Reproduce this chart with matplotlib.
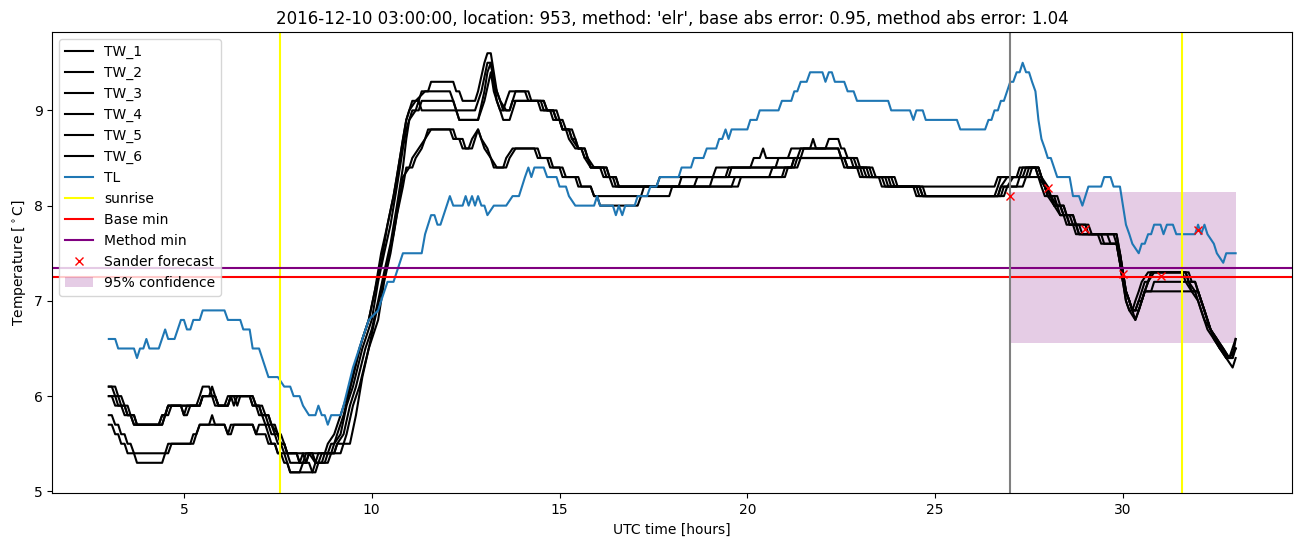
import matplotlib
matplotlib.use("Agg")
import matplotlib.pyplot as plt

# ---------------- data (hours, temperature) ----------------
tw1 = [(3.00, 6.1), (3.08, 6.1), (3.17, 6.0), (3.25, 6.0), (3.33, 5.9), (3.42, 5.9), (3.50, 5.8), (3.58, 5.8),
       (3.67, 5.7), (4.42, 5.7), (4.50, 5.8), (4.58, 5.8), (4.67, 5.9), (5.33, 5.9), (5.42, 6.0), (5.50, 6.1),
       (5.67, 6.1), (5.75, 6.0), (5.83, 6.0), (5.92, 5.9), (6.08, 5.9), (6.17, 6.0), (6.75, 6.0), (6.83, 5.9),
       (6.92, 5.9), (7.00, 5.8), (7.08, 5.8), (7.17, 5.7), (7.25, 5.7), (7.33, 5.6), (7.42, 5.6), (7.50, 5.5),
       (7.58, 5.5), (7.67, 5.4), (8.17, 5.4), (8.25, 5.3), (8.33, 5.4), (8.75, 5.4), (8.83, 5.5), (9.00, 5.6),
       (9.17, 5.8), (9.42, 6.1), (9.67, 6.5), (9.92, 6.8), (10.08, 7.1), (10.25, 7.5), (10.42, 7.8),
       (10.58, 8.1), (10.67, 8.3), (10.83, 8.7), (10.92, 8.9), (11.00, 9.0), (11.08, 9.1),
       (11.25, 9.1), (11.33, 9.2), (11.50, 9.2), (11.58, 9.3), (12.17, 9.3), (12.25, 9.2), (12.33, 9.2),
       (12.42, 9.1), (12.75, 9.1), (12.83, 9.2), (13.00, 9.5), (13.08, 9.6), (13.17, 9.6), (13.25, 9.4),
       (13.33, 9.2), (13.42, 9.1), (13.50, 9.0), (13.58, 9.1), (13.67, 9.2), (14.08, 9.2), (14.17, 9.1),
       (14.50, 9.1), (14.58, 9.0), (14.83, 9.0), (14.92, 8.9), (15.00, 8.9), (15.08, 8.8), (15.25, 8.8),
       (15.33, 8.7), (15.42, 8.7), (15.50, 8.6), (15.58, 8.6), (15.67, 8.5), (15.75, 8.5), (15.83, 8.4),
       (16.17, 8.4), (16.25, 8.3), (16.42, 8.3), (16.50, 8.2), (17.58, 8.2), (17.67, 8.3), (19.08, 8.3),
       (19.17, 8.4), (20.08, 8.4), (20.17, 8.5), (20.33, 8.5), (20.42, 8.6), (20.50, 8.5), (21.08, 8.5),
       (21.17, 8.6), (22.08, 8.6), (22.17, 8.7), (22.42, 8.7), (22.50, 8.6), (22.58, 8.6), (22.67, 8.5),
       (22.92, 8.5), (23.00, 8.4), (23.25, 8.4), (23.33, 8.3), (23.83, 8.3), (23.92, 8.2), (24.58, 8.2),
       (24.67, 8.1), (26.58, 8.1), (26.67, 8.2), (26.75, 8.3), (27.17, 8.3), (27.25, 8.4), (27.75, 8.4),
       (27.83, 8.3), (27.92, 8.2), (28.00, 8.1), (28.17, 8.1), (28.25, 8.0), (28.33, 8.0), (28.42, 7.9),
       (28.58, 7.9), (28.67, 7.8), (28.83, 7.8), (28.92, 7.7), (29.75, 7.7), (29.83, 7.6), (29.92, 7.4),
       (30.00, 7.2), (30.08, 7.0), (30.17, 6.9), (30.25, 6.9), (30.33, 7.0), (30.42, 7.1), (30.50, 7.2),
       (30.67, 7.3), (31.75, 7.3), (31.83, 7.2), (31.92, 7.2), (32.00, 7.1), (32.17, 6.9), (32.33, 6.7),
       (32.50, 6.6), (32.67, 6.5), (32.83, 6.4), (33.00, 6.6)]

tw2 = [(3.00, 6.1), (3.17, 6.1), (3.25, 6.0), (3.33, 6.0), (3.42, 5.9), (3.50, 5.9), (3.58, 5.8), (3.67, 5.8),
       (3.75, 5.7), (4.33, 5.7), (4.42, 5.8), (4.50, 5.8), (4.58, 5.9), (4.92, 5.9), (5.00, 5.8), (5.08, 5.9),
       (5.42, 5.9), (5.50, 6.0), (5.83, 6.0), (5.92, 5.9), (6.17, 5.9), (6.25, 6.0), (6.33, 5.9), (6.42, 6.0),
       (6.83, 6.0), (6.92, 5.9), (7.00, 5.9), (7.08, 5.8), (7.17, 5.8), (7.25, 5.7), (7.33, 5.7), (7.42, 5.6),
       (7.50, 5.6), (7.58, 5.5), (7.67, 5.5), (7.75, 5.4), (8.00, 5.4), (8.08, 5.3), (8.17, 5.4), (8.42, 5.4),
       (8.50, 5.3), (8.58, 5.4), (8.83, 5.4), (8.92, 5.5), (9.00, 5.5), (9.08, 5.6), (9.25, 5.8), (9.50, 6.2),
       (9.75, 6.6), (9.92, 6.8), (10.08, 7.1), (10.25, 7.4), (10.42, 7.8), (10.58, 8.1), (10.75, 8.5),
       (10.92, 8.9), (11.00, 9.0), (11.17, 9.1), (11.42, 9.2), (12.08, 9.2), (12.17, 9.1),
       (12.25, 9.0), (12.75, 9.0), (12.92, 9.2), (13.08, 9.5), (13.17, 9.5), (13.25, 9.3), (13.33, 9.2),
       (13.42, 9.1), (13.58, 9.0), (13.67, 9.0), (13.75, 9.1), (13.83, 9.2), (14.17, 9.2), (14.25, 9.1),
       (14.58, 9.1), (14.67, 9.0), (14.83, 9.0), (14.92, 8.9), (15.08, 8.9), (15.17, 8.8), (15.33, 8.8),
       (15.42, 8.7), (15.50, 8.6), (15.67, 8.6), (15.75, 8.5), (15.83, 8.4), (16.25, 8.4), (16.33, 8.3),
       (16.50, 8.3), (16.58, 8.2), (18.58, 8.2), (18.67, 8.3), (19.50, 8.3), (19.58, 8.4), (20.75, 8.4),
       (20.83, 8.5), (21.33, 8.5), (21.42, 8.6), (21.67, 8.6), (21.75, 8.7), (21.83, 8.6), (22.42, 8.6),
       (22.50, 8.5), (22.83, 8.5), (22.92, 8.4), (23.33, 8.4), (23.42, 8.3), (23.92, 8.3), (24.00, 8.2),
       (26.58, 8.2), (26.67, 8.3), (27.33, 8.3), (27.42, 8.4), (27.75, 8.4), (27.83, 8.3), (28.00, 8.2),
       (28.08, 8.1), (28.25, 8.1), (28.33, 8.0), (28.42, 8.0), (28.50, 7.9), (28.67, 7.9), (28.75, 7.8),
       (29.08, 7.8), (29.17, 7.7), (29.83, 7.7), (29.92, 7.5), (30.00, 7.3), (30.08, 7.1), (30.17, 7.0),
       (30.25, 6.9), (30.33, 6.8), (30.42, 6.9), (30.50, 7.0), (30.58, 7.1), (30.67, 7.2), (30.75, 7.3),
       (31.67, 7.3), (31.75, 7.2), (31.92, 7.2), (32.00, 7.1), (32.17, 6.9), (32.33, 6.7), (32.50, 6.6),
       (32.75, 6.4), (32.92, 6.3), (33.00, 6.4)]

tw3 = [(3.00, 6.0), (3.08, 6.0), (3.17, 5.9), (3.33, 5.9), (3.42, 5.8), (3.58, 5.8), (3.67, 5.7), (4.42, 5.7),
       (4.50, 5.8), (4.58, 5.9), (4.92, 5.9), (5.00, 5.8), (5.08, 5.8), (5.17, 5.9), (5.42, 5.9), (5.50, 6.0),
       (5.75, 6.0), (5.83, 5.9), (6.17, 5.9), (6.25, 6.0), (6.75, 6.0), (6.83, 5.9), (7.00, 5.9), (7.08, 5.8),
       (7.25, 5.8), (7.33, 5.7), (7.42, 5.7), (7.50, 5.6), (7.58, 5.5), (7.67, 5.5), (7.75, 5.4), (7.83, 5.3),
       (8.17, 5.3), (8.25, 5.4), (8.42, 5.4), (8.50, 5.3), (8.58, 5.3), (8.67, 5.4), (8.92, 5.4), (9.00, 5.5),
       (9.17, 5.6), (9.33, 5.9), (9.50, 6.1), (9.75, 6.5), (10.00, 6.8), (10.17, 7.2), (10.33, 7.5),
       (10.50, 7.8), (10.67, 8.2), (10.83, 8.6), (10.92, 8.8), (11.00, 8.9), (11.08, 9.0), (11.25, 9.0),
       (11.33, 9.1),
       (12.17, 9.1), (12.25, 9.0), (12.33, 8.9), (12.83, 8.9), (13.00, 9.2), (13.08, 9.4), (13.17, 9.5),
       (13.25, 9.3), (13.33, 9.1), (13.42, 9.0), (13.67, 9.0), (13.75, 9.1), (14.42, 9.1), (14.50, 9.0),
       (14.75, 9.0), (14.83, 8.9), (15.00, 8.9), (15.08, 8.8), (15.17, 8.8), (15.25, 8.7), (15.42, 8.6),
       (15.58, 8.6), (15.67, 8.5), (15.83, 8.4), (16.08, 8.4), (16.17, 8.3), (16.33, 8.3), (16.42, 8.2),
       (18.17, 8.2), (18.25, 8.3), (19.42, 8.3), (19.50, 8.4), (21.17, 8.4), (21.25, 8.5), (21.42, 8.5),
       (21.50, 8.6), (22.42, 8.6), (22.50, 8.5), (22.75, 8.5), (22.83, 8.4), (23.17, 8.4), (23.25, 8.3),
       (23.75, 8.3), (23.83, 8.2), (24.50, 8.2), (24.58, 8.1), (26.83, 8.1), (26.92, 8.2), (27.08, 8.3),
       (27.25, 8.3), (27.33, 8.4), (27.67, 8.4), (27.75, 8.3), (27.83, 8.2), (27.92, 8.1), (28.08, 8.1),
       (28.17, 8.0), (28.33, 8.0), (28.42, 7.9), (28.50, 7.9), (28.58, 7.8), (28.75, 7.8), (28.83, 7.7),
       (29.42, 7.7), (29.50, 7.6), (29.83, 7.6), (29.92, 7.4), (30.00, 7.2), (30.08, 7.0), (30.17, 6.9),
       (30.33, 6.8), (30.42, 6.9), (30.58, 7.1), (30.67, 7.2), (30.83, 7.3), (31.58, 7.3), (31.67, 7.2),
       (31.83, 7.1), (32.00, 7.0), (32.17, 6.8), (32.33, 6.7), (32.58, 6.5), (32.83, 6.4), (33.00, 6.5)]

tw4 = [(3.00, 6.0), (3.17, 6.0), (3.25, 5.9), (3.42, 5.9), (3.50, 5.8), (3.67, 5.8), (3.75, 5.7), (4.33, 5.7),
       (4.42, 5.8), (4.50, 5.8), (4.58, 5.9), (5.42, 5.9), (5.50, 6.0), (5.67, 6.0), (5.75, 6.1), (5.83, 6.0),
       (5.92, 5.9), (6.17, 5.9), (6.25, 6.0), (6.33, 6.0), (6.42, 5.9), (6.50, 6.0), (6.83, 6.0), (6.92, 5.9),
       (7.08, 5.9), (7.17, 5.8), (7.25, 5.8), (7.33, 5.7), (7.50, 5.6), (7.58, 5.6), (7.67, 5.5), (7.75, 5.4),
       (8.00, 5.4), (8.08, 5.3), (8.25, 5.3), (8.33, 5.4), (8.50, 5.3), (8.67, 5.3), (8.75, 5.4), (9.00, 5.4),
       (9.08, 5.5), (9.25, 5.6), (9.42, 5.9), (9.58, 6.1), (9.83, 6.5), (10.00, 6.7), (10.17, 7.0),
       (10.33, 7.3), (10.50, 7.6), (10.67, 8.0), (10.83, 8.4), (10.92, 8.7), (11.00, 8.9), (11.17, 9.0),
       (11.25, 9.1), (11.33, 9.0), (12.25, 9.0), (12.33, 8.9), (12.83, 8.9), (13.00, 9.1), (13.17, 9.4),
       (13.25, 9.2), (13.33, 9.1), (13.42, 9.0), (13.50, 8.9), (13.67, 8.9), (13.75, 9.0), (13.83, 9.1),
       (14.58, 9.1), (14.67, 9.0), (14.92, 9.0), (15.00, 8.9), (15.08, 8.8), (15.25, 8.8), (15.33, 8.7),
       (15.50, 8.6), (15.67, 8.6), (15.75, 8.5), (15.92, 8.4), (16.25, 8.4), (16.33, 8.3), (16.50, 8.3),
       (16.58, 8.2), (19.58, 8.2), (19.67, 8.3), (20.92, 8.3), (21.00, 8.4), (21.33, 8.4), (21.42, 8.5),
       (22.50, 8.5), (22.58, 8.4), (23.08, 8.4), (23.17, 8.3), (23.58, 8.3), (23.67, 8.2), (24.42, 8.2),
       (24.50, 8.1), (26.67, 8.1), (26.75, 8.2), (26.92, 8.3), (27.42, 8.3), (27.50, 8.4), (27.67, 8.4),
       (27.75, 8.3), (27.92, 8.2), (28.00, 8.1), (28.08, 8.1), (28.17, 8.0), (28.25, 8.0), (28.33, 7.9),
       (28.42, 7.9), (28.50, 7.8), (28.67, 7.8), (28.75, 7.7), (29.83, 7.7), (29.92, 7.5), (30.00, 7.3),
       (30.08, 7.1), (30.17, 7.0), (30.25, 6.9), (30.33, 6.9), (30.42, 7.0), (30.50, 7.1), (30.58, 7.2),
       (30.67, 7.2), (30.75, 7.3), (31.67, 7.3), (31.75, 7.2), (31.92, 7.1), (32.08, 6.9), (32.25, 6.7),
       (32.42, 6.6), (32.58, 6.5), (32.75, 6.4), (32.92, 6.4), (33.00, 6.5)]

tw5 = [(3.00, 5.8), (3.08, 5.8), (3.17, 5.7), (3.25, 5.7), (3.33, 5.6), (3.42, 5.6), (3.50, 5.5), (3.58, 5.5),
       (3.67, 5.4), (4.50, 5.4), (4.58, 5.5), (5.25, 5.5), (5.33, 5.6), (5.42, 5.7), (5.67, 5.7), (5.75, 5.8),
       (5.83, 5.7), (6.08, 5.7), (6.17, 5.6), (6.25, 5.7), (6.83, 5.7), (6.92, 5.6), (7.00, 5.7), (7.17, 5.7),
       (7.25, 5.6), (7.33, 5.5), (7.42, 5.5), (7.50, 5.4), (7.67, 5.4), (7.75, 5.3), (7.83, 5.2), (8.42, 5.2),
       (8.50, 5.3), (8.75, 5.3), (8.83, 5.4), (9.00, 5.4), (9.08, 5.5), (9.25, 5.5), (9.33, 5.6), (9.50, 5.9),
       (9.67, 6.1), (9.92, 6.5), (10.08, 6.8), (10.25, 7.1), (10.42, 7.4), (10.58, 7.7), (10.75, 8.1),
       (10.83, 8.3), (11.00, 8.4), (11.08, 8.5), (11.25, 8.6), (11.42, 8.7), (11.50, 8.8), (12.17, 8.8),
       (12.25, 8.7), (12.42, 8.7), (12.50, 8.6), (12.67, 8.6), (12.75, 8.7), (12.83, 8.8), (12.92, 8.7),
       (13.08, 8.6), (13.17, 8.5), (13.33, 8.4), (13.58, 8.4), (13.67, 8.5), (13.83, 8.6), (14.33, 8.6),
       (14.42, 8.5), (14.67, 8.5), (14.75, 8.4), (15.08, 8.4), (15.17, 8.3), (15.50, 8.3), (15.58, 8.2),
       (15.83, 8.2), (15.92, 8.1), (17.17, 8.1), (17.25, 8.2), (19.00, 8.2), (19.08, 8.3), (20.58, 8.3),
       (20.67, 8.4), (21.17, 8.4), (21.25, 8.5), (22.58, 8.5), (22.67, 8.4), (22.92, 8.4), (23.00, 8.3),
       (23.50, 8.3), (23.58, 8.2), (24.58, 8.2), (24.67, 8.1), (26.75, 8.1), (26.83, 8.2), (27.17, 8.2),
       (27.25, 8.3), (27.50, 8.3), (27.58, 8.4), (27.75, 8.4), (27.83, 8.3), (27.92, 8.2), (28.08, 8.1),
       (28.25, 8.0), (28.42, 8.0), (28.50, 7.9), (28.67, 7.9), (28.75, 7.8), (29.00, 7.8), (29.08, 7.7),
       (29.58, 7.7), (29.67, 7.6), (29.83, 7.6), (29.92, 7.5), (30.00, 7.3), (30.08, 7.1), (30.17, 7.0),
       (30.25, 6.9), (30.42, 6.9), (30.50, 7.0), (30.58, 7.1), (30.75, 7.1), (30.83, 7.2), (31.75, 7.2),
       (31.83, 7.1), (32.00, 7.1), (32.17, 6.9), (32.33, 6.7), (32.50, 6.6), (32.67, 6.5), (32.83, 6.4),
       (33.00, 6.5)]

tw6 = [(3.00, 5.7), (3.08, 5.7), (3.17, 5.6), (3.25, 5.6), (3.33, 5.5), (3.42, 5.5), (3.50, 5.4), (3.67, 5.4),
       (3.75, 5.3), (4.42, 5.3), (4.50, 5.4), (4.58, 5.4), (4.67, 5.5), (5.17, 5.5), (5.25, 5.6), (5.33, 5.6),
       (5.42, 5.7), (6.08, 5.7), (6.17, 5.6), (6.25, 5.6), (6.33, 5.7), (6.83, 5.7), (6.92, 5.6), (7.17, 5.6),
       (7.25, 5.5), (7.42, 5.5), (7.50, 5.4), (7.58, 5.4), (7.67, 5.3), (7.75, 5.3), (7.83, 5.2), (8.08, 5.2),
       (8.17, 5.3), (8.33, 5.3), (8.42, 5.2), (8.50, 5.2), (8.58, 5.3), (8.83, 5.3), (8.92, 5.4), (9.17, 5.4),
       (9.25, 5.5), (9.42, 5.5), (9.58, 5.8), (9.75, 6.2), (9.92, 6.5), (10.17, 6.8), (10.33, 7.2),
       (10.50, 7.5), (10.67, 7.9), (10.83, 8.2), (10.92, 8.4), (11.08, 8.4), (11.17, 8.5), (11.33, 8.6),
       (11.42, 8.7), (11.58, 8.8), (12.08, 8.8), (12.17, 8.7), (12.33, 8.7), (12.42, 8.6), (12.58, 8.6),
       (12.67, 8.7), (12.83, 8.8), (13.00, 8.6), (13.17, 8.5), (13.25, 8.4), (13.50, 8.4), (13.58, 8.5),
       (13.75, 8.6), (14.42, 8.6), (14.50, 8.5), (14.75, 8.5), (14.83, 8.4), (15.00, 8.4), (15.08, 8.3),
       (15.42, 8.3), (15.50, 8.2), (15.83, 8.2), (15.92, 8.1), (16.00, 8.1), (16.08, 8.0), (17.08, 8.0),
       (17.17, 8.1), (17.92, 8.1), (18.00, 8.2), (19.75, 8.2), (19.83, 8.3), (21.00, 8.3), (21.08, 8.4),
       (21.25, 8.4), (21.33, 8.5), (22.58, 8.5), (22.67, 8.4), (23.00, 8.4), (23.08, 8.3), (23.67, 8.3),
       (23.75, 8.2), (24.67, 8.2), (24.75, 8.1), (26.67, 8.1), (26.75, 8.2), (27.33, 8.2), (27.42, 8.3),
       (27.83, 8.3), (27.92, 8.2), (28.00, 8.1), (28.17, 8.0), (28.33, 7.9), (28.50, 7.9), (28.58, 7.8),
       (28.75, 7.8), (28.83, 7.7), (29.33, 7.7), (29.42, 7.6), (29.83, 7.6), (29.92, 7.4), (30.00, 7.2),
       (30.08, 7.1), (30.17, 7.0), (30.25, 6.9), (30.33, 6.9), (30.42, 7.0), (30.50, 7.0), (30.58, 7.1),
       (32.00, 7.1), (32.08, 7.0), (32.25, 6.8), (32.42, 6.6), (32.58, 6.5), (32.75, 6.4), (32.92, 6.4),
       (33.00, 6.6)]

tl = [(3.00, 6.6), (3.17, 6.6), (3.25, 6.5), (3.67, 6.5), (3.75, 6.4), (3.83, 6.5), (3.92, 6.5), (4.00, 6.6),
      (4.08, 6.5), (4.33, 6.5), (4.50, 6.7), (4.58, 6.6), (4.75, 6.6), (4.92, 6.8), (5.00, 6.8), (5.08, 6.7),
      (5.17, 6.7), (5.25, 6.8), (5.42, 6.8), (5.50, 6.9), (6.08, 6.9), (6.17, 6.8), (6.50, 6.8), (6.58, 6.7),
      (6.75, 6.7), (6.83, 6.5), (7.00, 6.5), (7.25, 6.2), (7.50, 6.2), (7.67, 6.1), (7.83, 6.1), (7.92, 6.0),
      (8.08, 6.0), (8.17, 5.9), (8.33, 5.8), (8.50, 5.8), (8.58, 5.9), (8.67, 5.8), (8.75, 5.8), (8.83, 5.7),
      (8.92, 5.8), (9.17, 5.8), (9.25, 5.9), (9.50, 6.3), (9.75, 6.6), (9.92, 6.8), (10.17, 6.9), (10.25, 7.0),
      (10.42, 7.2), (10.58, 7.2), (10.83, 7.5), (11.33, 7.5), (11.42, 7.7), (11.58, 7.9), (11.67, 7.9),
      (11.75, 7.8), (11.83, 7.8), (12.08, 8.1), (12.17, 8.0), (12.42, 8.0), (12.50, 8.1), (12.58, 8.0),
      (12.67, 8.1), (12.75, 8.0), (12.83, 8.1), (12.92, 8.0), (13.00, 8.0), (13.08, 7.9), (13.25, 8.0),
      (13.58, 8.0), (13.75, 8.1), (13.92, 8.1), (14.00, 8.2), (14.08, 8.3), (14.17, 8.4), (14.25, 8.3),
      (14.33, 8.4), (14.58, 8.4), (14.67, 8.3), (14.92, 8.3), (15.00, 8.2), (15.17, 8.2), (15.25, 8.1),
      (15.42, 8.0), (15.92, 8.0), (16.00, 8.1), (16.08, 8.0), (16.42, 8.0), (16.50, 7.9), (16.58, 8.0),
      (16.67, 7.9), (16.75, 8.0), (17.00, 8.0), (17.08, 8.1), (17.33, 8.1), (17.42, 8.2), (17.58, 8.2),
      (17.67, 8.3), (18.17, 8.3), (18.25, 8.4), (18.50, 8.4), (18.58, 8.5), (18.83, 8.5), (18.92, 8.6),
      (19.17, 8.6), (19.25, 8.7), (19.33, 8.7), (19.42, 8.8), (19.50, 8.7), (19.58, 8.8), (20.00, 8.8),
      (20.08, 8.9), (20.25, 8.9), (20.33, 9.0), (20.83, 9.0), (20.92, 9.1), (21.17, 9.1), (21.25, 9.2),
      (21.33, 9.2), (21.42, 9.3), (21.58, 9.3), (21.67, 9.4), (22.00, 9.4), (22.08, 9.3), (22.17, 9.4),
      (22.25, 9.4), (22.33, 9.3), (22.58, 9.3), (22.67, 9.2), (22.83, 9.2), (22.92, 9.1), (23.75, 9.1),
      (23.83, 9.0), (24.33, 9.0), (24.42, 8.9), (24.50, 9.0), (24.67, 9.0), (24.75, 8.9), (25.58, 8.9),
      (25.67, 8.8), (26.33, 8.8), (26.42, 8.9), (26.50, 8.9), (26.58, 9.0), (26.67, 9.0), (26.75, 9.1),
      (26.83, 9.1), (27.00, 9.3), (27.08, 9.3), (27.17, 9.4), (27.25, 9.4), (27.33, 9.5), (27.42, 9.4),
      (27.50, 9.4), (27.58, 9.3), (27.67, 9.2), (27.75, 8.9), (27.83, 8.7), (27.92, 8.6), (28.00, 8.5),
      (28.08, 8.5), (28.25, 8.3), (28.58, 8.3), (28.67, 8.1), (28.83, 8.1), (28.92, 8.0), (29.08, 8.2),
      (29.42, 8.2), (29.50, 8.3), (29.67, 8.3), (29.75, 8.2), (29.92, 8.2), (30.08, 7.8), (30.17, 7.7),
      (30.25, 7.6), (30.42, 7.5), (30.50, 7.6), (30.58, 7.6), (30.67, 7.7), (30.75, 7.7), (30.83, 7.8),
      (31.00, 7.8), (31.08, 7.7), (31.17, 7.8), (31.33, 7.8), (31.42, 7.7), (31.92, 7.7), (32.00, 7.8),
      (32.08, 7.7), (32.17, 7.8), (32.25, 7.7), (32.42, 7.6), (32.50, 7.5), (32.67, 7.4), (32.75, 7.5),
      (33.00, 7.5)]

sunrise_hours = [7.55, 31.56]
forecast_start = 27.0
base_min = 7.25
method_min = 7.34
sander_hours = [27.0, 28.0, 29.0, 30.0, 31.0, 32.0]
sander_values = [8.10, 8.19, 7.75, 7.28, 7.26, 7.74]
conf_hours = [27.0, 33.0]
conf_low = 6.56
conf_high = 8.14

title = ("2016-12-10 03:00:00, location: 953, method: 'elr', "
         "base abs error: 0.95, method abs error: 1.04")

# ---------------- plot ----------------
fig = plt.figure(figsize=(13.02, 5.47), dpi=100)
ax = fig.add_axes([0.0403, 0.0982, 0.952, 0.8428])

for i, series in enumerate([tw1, tw2, tw3, tw4, tw5, tw6]):
    xs, ys = zip(*series)
    ax.plot(xs, ys, color="black", label=f"TW_{i + 1}")

xs, ys = zip(*tl)
ax.plot(xs, ys, color="#1f77b4", label="TL")

for j, h in enumerate(sunrise_hours):
    ax.axvline(h, color="yellow", label="sunrise" if j == 0 else None)
ax.axhline(base_min, color="red", label="Base min")
ax.axhline(method_min, color="purple", label="Method min")
ax.axvline(forecast_start, color="gray")
ax.plot(sander_hours, sander_values, "x", color="red", linestyle="none",
        label="Sander forecast")
ax.fill_between(conf_hours, [conf_low, conf_low], [conf_high, conf_high],
                color="purple", alpha=0.2, linewidth=0, label="95% confidence")

ax.set_title(title)
ax.set_xlabel("UTC time [hours]")
ax.set_ylabel(r"Temperature [$^\circ$C]")
ax.legend(loc="upper left")

fig.savefig("out.png", dpi=100)
